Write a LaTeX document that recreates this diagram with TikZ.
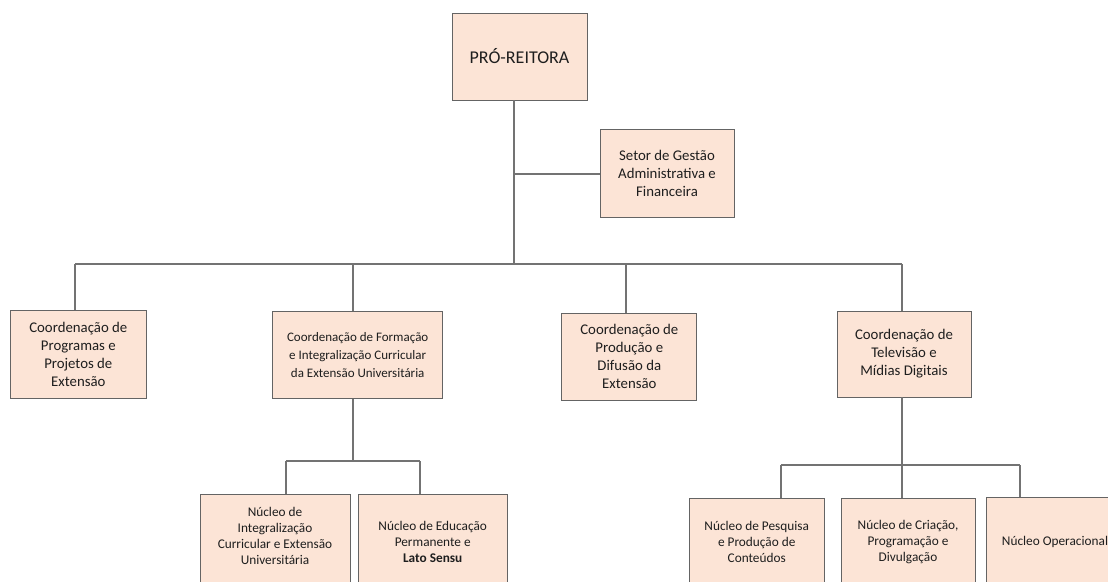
\documentclass[tikz,border=0pt]{standalone}
\usepackage{fontspec}
\setmainfont{Carlito}
\definecolor{boxfill}{RGB}{252,228,214}
\definecolor{boxline}{RGB}{100,100,100}
\definecolor{wire}{RGB}{115,115,115}
\definecolor{ink}{RGB}{30,30,30}
\begin{document}
\begin{tikzpicture}[x=1pt,y=-1pt]
\tikzstyle{every node}+=[inner sep=0pt,text=ink]
\tikzstyle{unit}=[draw=boxline,line width=0.9pt,fill=boxfill,align=center,font=\fontsize{14.8}{18}\selectfont]
\tikzstyle{core}=[unit,font=\fontsize{13.3}{16.3}\selectfont]
\tikzstyle{link}=[draw=wire,line width=1.1pt]
\useasboundingbox (0,0) rectangle (1108,581);
\clip (0,0) rectangle (1108,581);
%top
\node [unit,minimum width=135,minimum height=87,font=\fontsize{18}{22}\selectfont] (reitora) at (519.5,56.5) {PRÓ-REITORA};
\node [unit,minimum width=134,minimum height=88] (setor) at (667,173) {Setor de Gestão\\Administrativa e\\Financeira};
%coordinations
\node [unit,minimum width=136,minimum height=88] (cprog) at (78.3,354) {Coordenação de\\Programas e\\Projetos de\\Extensão};
\node [unit,minimum width=170,minimum height=87,font=\fontsize{13}{18}\selectfont] (cform) at (357.7,355.3) {Coordenação de Formação\\e Integralização Curricular\\da Extensão Universitária};
\node [unit,minimum width=135,minimum height=87] (cprod) at (629.3,356.5) {Coordenação de\\Produção e\\Difusão da\\Extensão};
\node [unit,minimum width=134,minimum height=86] (ctv) at (904,354) {Coordenação de\\Televisão e\\Mídias Digitais};
%nucleos
\node [core,minimum width=150,minimum height=96] (nint) at (275,542) {Núcleo de\\Integralização\\Curricular e Extensão\\Universitária\\[-4pt]\mbox{}};
\node [core,minimum width=149,minimum height=96] (nedu) at (432.7,542) {Núcleo de Educação\\Permanente e\\\textbf{Lato Sensu}};
\node [core,minimum width=135,minimum height=88] (npesq) at (756.7,542) {Núcleo de Pesquisa\\e Produção de\\Conteúdos};
\node [core,minimum width=134,minimum height=88] (ncria) at (908,542) {Núcleo de Criação,\\Programação e\\Divulgação};
\node [core,minimum width=138,minimum height=90] (nop) at (1055,542) {Núcleo Operacional};
%junctions
\coordinate (s0) at (514,174);
\coordinate (s1) at (514,264);
\coordinate (b1) at (75,264);
\coordinate (b2) at (353,264);
\coordinate (b3) at (626,264);
\coordinate (b4) at (902,264);
\coordinate (f0) at (353,461);
\coordinate (f1) at (286,461);
\coordinate (f2) at (420,461);
\coordinate (t0) at (902,465);
\coordinate (t1) at (781,465);
\coordinate (t2) at (1020,465);
%lines
\draw [link] (reitora.south -| s0) -- (s1);
\draw [link] (s0) -- (setor.west |- s0);
\draw [link] (b1) -- (b4);
\draw [link] (b1) -- (b1 |- cprog.north);
\draw [link] (b2) -- (b2 |- cform.north);
\draw [link] (b3) -- (b3 |- cprod.north);
\draw [link] (b4) -- (b4 |- ctv.north);
\draw [link] (cform.south -| f0) -- (f0);
\draw [link] (f1) -- (f2);
\draw [link] (f1) -- (f1 |- nint.north);
\draw [link] (f2) -- (f2 |- nedu.north);
\draw [link] (ctv.south -| t0) -- (t0);
\draw [link] (t1) -- (t2);
\draw [link] (t1) -- (t1 |- npesq.north);
\draw [link] (t0) -- (t0 |- ncria.north);
\draw [link] (t2) -- (t2 |- nop.north);
\end{tikzpicture}
\end{document}
